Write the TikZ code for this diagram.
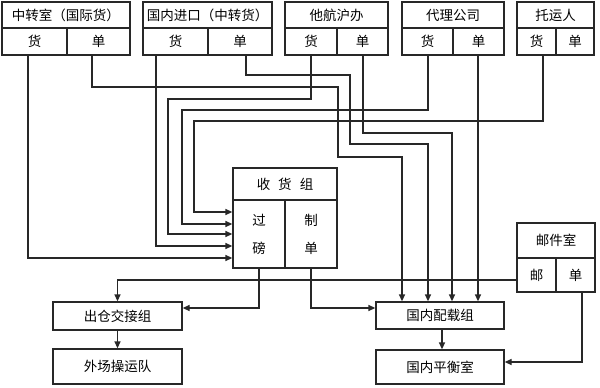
\documentclass[tikz,border=0pt]{standalone}
\usepackage{fontspec}
\newfontfamily\cjk{Noto Sans CJK SC}
\usepackage{xcolor}
\usetikzlibrary{arrows.meta}
\definecolor{linecol}{RGB}{40,40,40}

\begin{document}
\begin{tikzpicture}[
  x=1pt, y=-1pt,
  font=\cjk\fontsize{13.5}{16}\selectfont,
  box/.style={draw=linecol, line width=1.3pt, inner sep=0pt, align=center},
  title/.style={box, minimum height=26},
  cell/.style={box, minimum height=27},
  link/.style={-{Triangle[length=7pt,width=6pt]}, draw=linecol, line width=1.3pt}
]
  \useasboundingbox (0,0) rectangle (600,388);

  % senders
  \node[title, minimum width=128] (zzs) at (66,15) {中转室（国际货）};
  \node[cell, minimum width=65] (zzsh) at (34.5,41.5) {货};
  \node[cell, minimum width=63] (zzsd) at (98.5,41.5) {单};

  \node[title, minimum width=129] (gnjk) at (207.5,15) {国内进口（中转货）};
  \node[cell, minimum width=65] (gnjkh) at (175.5,41.5) {货};
  \node[cell, minimum width=64] (gnjkd) at (240,41.5) {单};

  \node[title, minimum width=103] (th) at (336.5,15) {他航沪办};
  \node[cell, minimum width=52] (thh) at (311,41.5) {货};
  \node[cell, minimum width=51] (thd) at (362.5,41.5) {单};

  \node[title, minimum width=102] (dl) at (453,15) {代理公司};
  \node[cell, minimum width=51] (dlh) at (427.5,41.5) {货};
  \node[cell, minimum width=51] (dld) at (478.5,41.5) {单};

  \node[title, minimum width=77] (ty) at (555.5,15) {托运人};
  \node[cell, minimum width=39] (tyh) at (536.5,41.5) {货};
  \node[cell, minimum width=38] (tyd) at (575,41.5) {单};

  % receiving group
  \node[box, minimum width=104, minimum height=32] (sh) at (285,184)
    {收\hspace{8pt}货\hspace{8pt}组};
  \node[box, minimum width=52, minimum height=68] (gb) at (259,234) {过\\[12pt]磅};
  \node[box, minimum width=52, minimum height=68] (zd) at (311,234) {制\\[12pt]单};

  % mail room
  \node[box, minimum width=78, minimum height=35] (yjs) at (556,240.5) {邮件室};
  \node[box, minimum width=39, minimum height=34] (yj) at (536.5,275) {邮};
  \node[box, minimum width=39, minimum height=34] (yd) at (575.5,275) {单};

  % receivers
  \node[box, minimum width=129, minimum height=28] (cj) at (117.5,316) {出仓交接组};
  \node[box, minimum width=129, minimum height=35] (wc) at (117.5,366.5) {外场操运队};
  \node[box, minimum width=128, minimum height=27] (pz) at (440,315.5) {国内配载组};
  \node[box, minimum width=128, minimum height=34] (ph) at (440,367) {国内平衡室};

  % goods to weighing
  \draw[link] (28,0 |- zzsh.south) |- (gb.west |- 0,258);
  \draw[link] (156,0 |- gnjkh.south) |- (gb.west |- 0,246);
  \draw[link] (thh.south) |- (168,99) |- (gb.west |- 0,234);
  \draw[link] (428,0 |- dlh.south) |- (182,110) |- (gb.west |- 0,224);
  \draw[link] (543,0 |- tyh.south) |- (194,121) |- (gb.west |- 0,212);

  % waybills to loading
  \draw[link] (92,0 |- zzsd.south) |- (338,87) |- (402,157) -- (402,0 |- pz.north);
  \draw[link] (246,0 |- gnjkd.south) |- (350,75) |- (428,144) -- (428,0 |- pz.north);
  \draw[link] (363,0 |- thd.south) |- (452,133) -- (452,0 |- pz.north);
  \draw[link] (478,0 |- dld.south) -- (478,0 |- pz.north);

  \draw[link] (gb.south) |- (cj.east |- 0,308);
  \draw[link] (zd.south) |- (pz.west |- 0,308);
  \draw[link] (yj.west |- 0,280) -| (cj.north);
  \draw[link] (582,0 |- yd.south) |- (ph.east |- 0,362);
  \draw[link] (cj.south) -- (wc.north);
  \draw[link] (442,0 |- pz.south) -- (442,0 |- ph.north);
\end{tikzpicture}
\end{document}
